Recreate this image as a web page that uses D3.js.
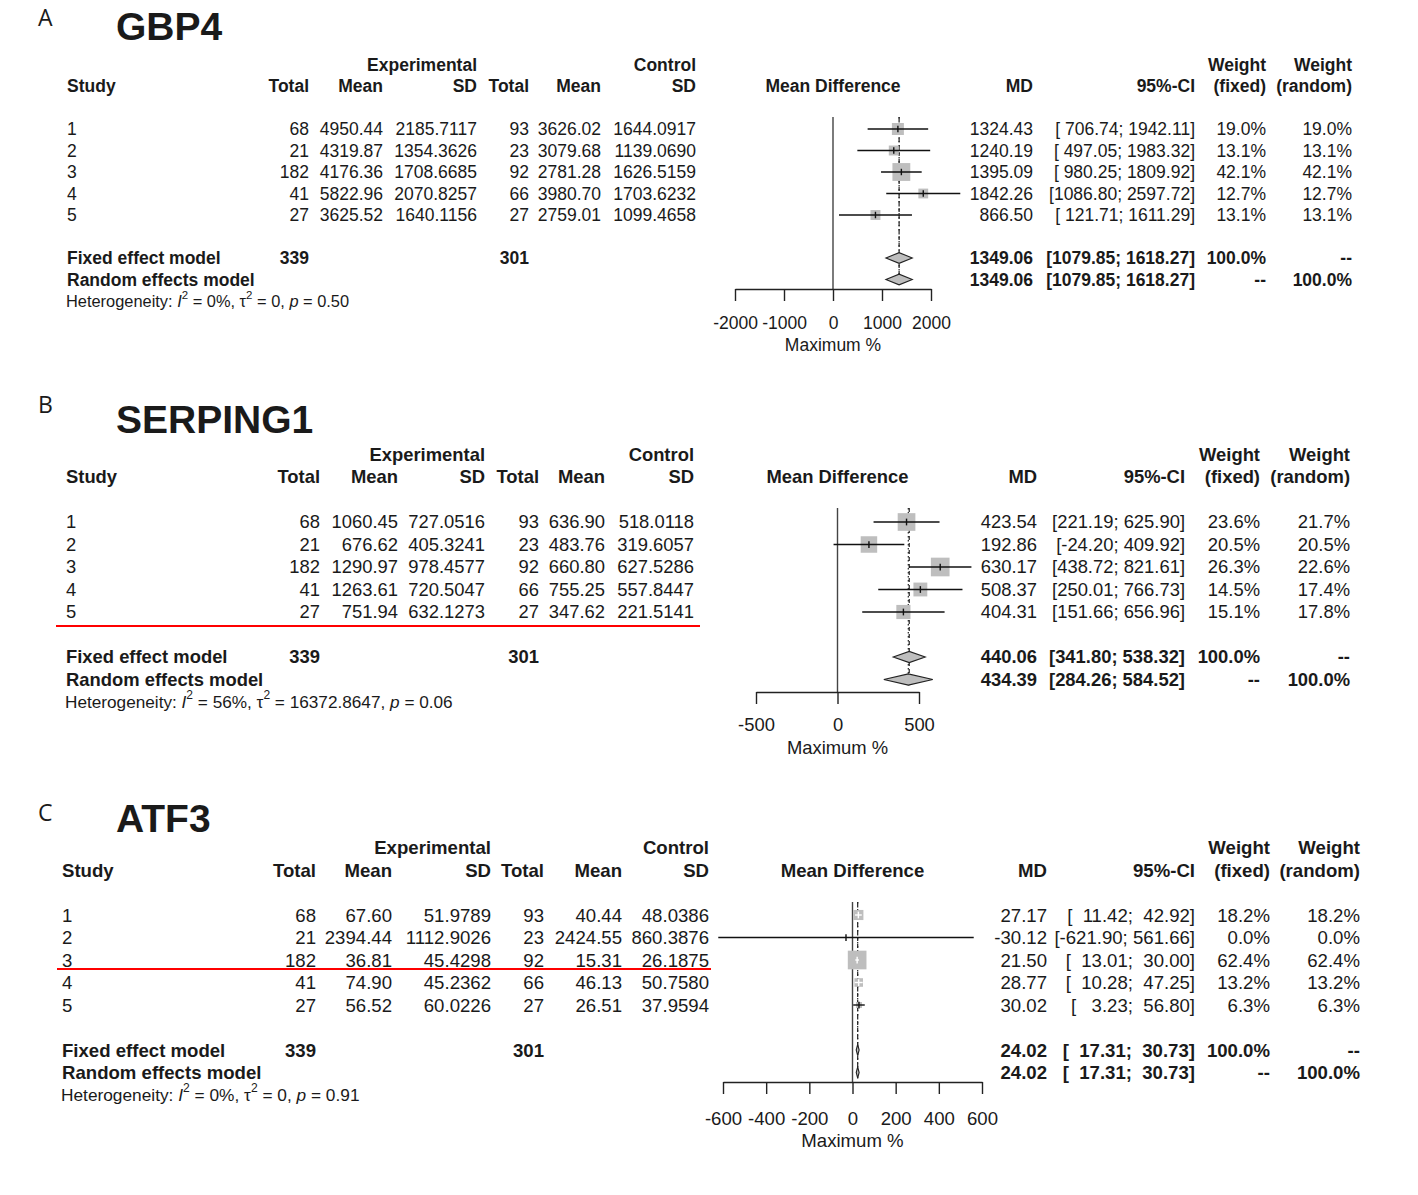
<!DOCTYPE html>
<html><head><meta charset="utf-8">
<script src="https://cdn.jsdelivr.net/npm/d3@7"></script>
<style>
html,body{margin:0;padding:0;background:#fff;}
svg text{font-family:"Liberation Sans",Arial,sans-serif;fill:#1a1a1a;white-space:pre;}
</style></head><body>
<svg id="chart" width="1418" height="1195"></svg>
<script>
// ---------- shared data ----------
const studies = ["1","2","3","4","5"];
const expTotal = [68,21,182,41,27];
const ctlTotal = [93,23,92,66,27];
const expTotalSum = 339;
const ctlTotalSum = 301;

// ---------- GBP4 ----------
const gbp4ExpMean = [4950.44,4319.87,4176.36,5822.96,3625.52];
const gbp4ExpSD   = [2185.7117,1354.3626,1708.6685,2070.8257,1640.1156];
const gbp4CtlMean = [3626.02,3079.68,2781.28,3980.70,2759.01];
const gbp4CtlSD   = [1644.0917,1139.0690,1626.5159,1703.6232,1099.4658];
const gbp4MD      = [1324.43,1240.19,1395.09,1842.26,866.50];
const gbp4Lower   = [706.74,497.05,980.25,1086.80,121.71];
const gbp4Upper   = [1942.11,1983.32,1809.92,2597.72,1611.29];
const gbp4WFixed  = [19.0,13.1,42.1,12.7,13.1];
const gbp4WRandom = [19.0,13.1,42.1,12.7,13.1];
const gbp4Fixed   = [1349.06,1079.85,1618.27];
const gbp4Random  = [1349.06,1079.85,1618.27];
const gbp4Ticks   = [-2000,-1000,0,1000,2000];
const gbp4Het     = ["0%","0","0.50"];

// ---------- SERPING1 ----------
const serpExpMean = [1060.45,676.62,1290.97,1263.61,751.94];
const serpExpSD   = [727.0516,405.3241,978.4577,720.5047,632.1273];
const serpCtlMean = [636.90,483.76,660.80,755.25,347.62];
const serpCtlSD   = [518.0118,319.6057,627.5286,557.8447,221.5141];
const serpMD      = [423.54,192.86,630.17,508.37,404.31];
const serpLower   = [221.19,-24.20,438.72,250.01,151.66];
const serpUpper   = [625.90,409.92,821.61,766.73,656.96];
const serpWFixed  = [23.6,20.5,26.3,14.5,15.1];
const serpWRandom = [21.7,20.5,22.6,17.4,17.8];
const serpFixed   = [440.06,341.80,538.32];
const serpRandom  = [434.39,284.26,584.52];
const serpTicks   = [-500,0,500];
const serpHet     = ["56%","16372.8647","0.06"];

// ---------- ATF3 ----------
const atf3ExpMean = [67.60,2394.44,36.81,74.90,56.52];
const atf3ExpSD   = [51.9789,1112.9026,45.4298,45.2362,60.0226];
const atf3CtlMean = [40.44,2424.55,15.31,46.13,26.51];
const atf3CtlSD   = [48.0386,860.3876,26.1875,50.7580,37.9594];
const atf3MD      = [27.17,-30.12,21.50,28.77,30.02];
const atf3Lower   = [11.42,-621.90,13.01,10.28,3.23];
const atf3Upper   = [42.92,561.66,30.00,47.25,56.80];
const atf3WFixed  = [18.2,0.0,62.4,13.2,6.3];
const atf3WRandom = [18.2,0.0,62.4,13.2,6.3];
const atf3Fixed   = [24.02,17.31,30.73];
const atf3Random  = [24.02,17.31,30.73];
const atf3Ticks   = [-600,-400,-200,0,200,400,600];
const atf3Het     = ["0%","0","0.91"];

const svg = d3.select("#chart");
svg.append("rect").attr("width",1418).attr("height",1195).attr("fill","#fff");

const f2 = d => d.toFixed(2);
const f4 = d => d.toFixed(4);
const padL = (s, w) => " ".repeat(Math.max(0, w - s.length)) + s;

function drawPanel(p) {
  const g = svg.append("g");
  const fs = p.fs;
  const y = d3.scaleLinear().domain([0,1]).range([p.y0, p.y0 + p.rowH]);
  const x = d3.scaleLinear().domain(p.domain).range(p.range);
  const c = p.cols;
  const T = (xx, row, str, anchor, bold, size) => {
    const s = size || fs;
    return g.append("text")
      .attr("x", xx).attr("y", y(row) + 0.35 * s)
      .attr("text-anchor", anchor)
      .attr("font-size", s)
      .attr("font-weight", bold ? "bold" : null)
      .attr("xml:space", "preserve")
      .text(str);
  };

  // letter + title
  g.append("text").attr("x", 38).attr("y", p.letterY)
    .style("font-family", "'Open Sans',sans-serif").attr("font-size", 23).text(p.letter);
  g.append("text").attr("x", 116).attr("y", p.titleY)
    .attr("font-size", 39).attr("font-weight", "bold").text(p.title);

  // headers
  T(c.eS, -3, "Experimental", "end", true);
  T(c.cS, -3, "Control", "end", true);
  T(c.wf, -3, "Weight", "end", true);
  T(c.wr, -3, "Weight", "end", true);
  T(c.study, -2, "Study", "start", true);
  T(c.eT, -2, "Total", "end", true);
  T(c.eM, -2, "Mean", "end", true);
  T(c.eS, -2, "SD", "end", true);
  T(c.cT, -2, "Total", "end", true);
  T(c.cM, -2, "Mean", "end", true);
  T(c.cS, -2, "SD", "end", true);
  T(x((p.domain[0] + p.domain[1]) / 2), -2, "Mean Difference", "middle", true);
  T(c.md, -2, "MD", "end", true);
  T(c.ci, -2, "95%-CI", "end", true);
  T(c.wf, -2, "(fixed)", "end", true);
  T(c.wr, -2, "(random)", "end", true);

  // CI string formatting (R-like padding)
  const loAll = p.lower.concat([p.fixed[1], p.random[1]]).map(f2);
  const hiAll = p.upper.concat([p.fixed[2], p.random[2]]).map(f2);
  const wLo = d3.max(loAll, s => s.length), wHi = d3.max(hiAll, s => s.length);
  const ciStr = (lo, hi) => "[" + padL(f2(lo), wLo) + "; " + padL(f2(hi), wHi) + "]";

  // study rows
  studies.forEach((s, i) => {
    T(c.study, i, s, "start");
    T(c.eT, i, String(expTotal[i]), "end");
    T(c.eM, i, f2(p.expMean[i]), "end");
    T(c.eS, i, f4(p.expSD[i]), "end");
    T(c.cT, i, String(ctlTotal[i]), "end");
    T(c.cM, i, f2(p.ctlMean[i]), "end");
    T(c.cS, i, f4(p.ctlSD[i]), "end");
    T(c.md, i, f2(p.md[i]), "end");
    T(c.ci, i, ciStr(p.lower[i], p.upper[i]), "end");
    T(c.wf, i, p.wFixed[i].toFixed(1) + "%", "end");
    T(c.wr, i, p.wRandom[i].toFixed(1) + "%", "end");
  });

  // summary rows
  T(c.study, 6, "Fixed effect model", "start", true);
  T(c.eT, 6, String(expTotalSum), "end", true);
  T(c.cT, 6, String(ctlTotalSum), "end", true);
  T(c.md, 6, f2(p.fixed[0]), "end", true);
  T(c.ci, 6, ciStr(p.fixed[1], p.fixed[2]), "end", true);
  T(c.wf, 6, "100.0%", "end", true);
  T(c.wr, 6, "--", "end", true);
  T(c.study, 7, "Random effects model", "start", true);
  T(c.md, 7, f2(p.random[0]), "end", true);
  T(c.ci, 7, ciStr(p.random[1], p.random[2]), "end", true);
  T(c.wf, 7, "--", "end", true);
  T(c.wr, 7, "100.0%", "end", true);

  // heterogeneity
  const hs = p.hetFs;
  const ht = g.append("text").attr("x", p.hetX).attr("y", y(8) + 0.35 * hs)
    .attr("font-size", hs).attr("xml:space", "preserve");
  const sup = () => ht.append("tspan").attr("font-size", hs * 0.7).attr("dy", -hs * 0.5).text("2");
  ht.append("tspan").text("Heterogeneity: ");
  ht.append("tspan").attr("font-style", "italic").text("I");
  sup();
  ht.append("tspan").attr("dy", hs * 0.5).text(" = " + p.het[0] + ", ");
  ht.append("tspan").text("\u03C4");
  sup();
  ht.append("tspan").attr("dy", hs * 0.5).text(" = " + p.het[1] + ", ");
  ht.append("tspan").attr("font-style", "italic").text("p");
  ht.append("tspan").text(" = " + p.het[2]);

  // red underline
  if (p.red) {
    g.append("line").attr("x1", p.red[0]).attr("x2", p.red[1])
      .attr("y1", p.red[2]).attr("y2", p.red[2])
      .attr("stroke", "#f00").attr("stroke-width", 2);
  }

  // ----- forest plot -----
  const dh = p.rowH * 0.25;
  // null line
  g.append("line").attr("x1", x(0)).attr("x2", x(0))
    .attr("y1", p.nullTop).attr("y2", p.axisY)
    .attr("stroke", "#444").attr("stroke-width", 1.4);
  // fixed (dashed) and random (dotted) lines
  g.append("line").attr("x1", x(p.fixed[0])).attr("x2", x(p.fixed[0]))
    .attr("y1", p.nullTop).attr("y2", y(7) + dh)
    .attr("stroke", "#222").attr("stroke-width", 1.2).attr("stroke-dasharray", "4,3");
  g.append("line").attr("x1", x(p.random[0])).attr("x2", x(p.random[0]))
    .attr("y1", p.nullTop).attr("y2", y(7) + dh)
    .attr("stroke", "#222").attr("stroke-width", 1.2).attr("stroke-dasharray", "1.5,2.5");

  // axis
  const axis = d3.axisBottom(x).tickValues(p.ticks).tickSize(12).tickSizeOuter(0)
    .tickFormat(d => String(d));
  const ag = g.append("g").attr("transform", `translate(0,${p.axisY})`).call(axis);
  ag.selectAll("path,line").attr("stroke", "#222").attr("stroke-width", 1.4);
  ag.selectAll("text").attr("font-size", fs).attr("dy", 0)
    .attr("y", p.tickLabelY - p.axisY + 0.35 * fs);
  g.append("text").attr("x", x((p.domain[0] + p.domain[1]) / 2))
    .attr("y", p.xlabY + 0.35 * fs).attr("text-anchor", "middle")
    .attr("font-size", fs).text("Maximum %");

  // boxes + CIs
  const wMax = d3.max(p.wFixed);
  const boxMax = p.rowH * 0.83;
  studies.forEach((s, i) => {
    const side = boxMax * Math.sqrt(p.wFixed[i] / wMax);
    const xl = x(p.lower[i]), xh = x(p.upper[i]), xm = x(p.md[i]), yy = y(i);
    const inside = side > 0 && (xh - xl) < side;
    if (side > 0) {
      g.append("rect").attr("x", xm - side / 2).attr("y", yy - side / 2)
        .attr("width", side).attr("height", side).attr("fill", "#bebebe");
    }
    const col = inside ? "#fff" : "#111";
    g.append("line").attr("x1", xl).attr("x2", xh).attr("y1", yy).attr("y2", yy)
      .attr("stroke", col).attr("stroke-width", 1.4);
    g.append("line").attr("x1", xm).attr("x2", xm)
      .attr("y1", yy - p.rowH * 0.15).attr("y2", yy + p.rowH * 0.15)
      .attr("stroke", col).attr("stroke-width", 1.4);
  });

  // diamonds
  [[p.fixed, 6], [p.random, 7]].forEach(([v, row]) => {
    const yy = y(row);
    const pts = [[x(v[1]), yy], [x(v[0]), yy - dh], [x(v[2]), yy], [x(v[0]), yy + dh]];
    g.append("polygon").attr("points", pts.map(q => q.join(",")).join(" "))
      .attr("fill", "#bebebe").attr("stroke", "#222").attr("stroke-width", 1.1);
  });
}

drawPanel({
  letter: "A", letterY: 26, title: "GBP4", titleY: 40,
  y0: 129, rowH: 21.5, fs: 17.5, hetFs: 16.4, hetX: 66,
  cols: {study: 67, eT: 309, eM: 383, eS: 477, cT: 529, cM: 601, cS: 696,
         md: 1033, ci: 1195, wf: 1266, wr: 1352},
  domain: [-2000, 2000], range: [735, 931], ticks: gbp4Ticks,
  axisY: 289, tickLabelY: 323, xlabY: 345, nullTop: 117,
  expMean: gbp4ExpMean, expSD: gbp4ExpSD, ctlMean: gbp4CtlMean, ctlSD: gbp4CtlSD,
  md: gbp4MD, lower: gbp4Lower, upper: gbp4Upper, wFixed: gbp4WFixed, wRandom: gbp4WRandom,
  fixed: gbp4Fixed, random: gbp4Random, het: gbp4Het, red: null
});

drawPanel({
  letter: "B", letterY: 413, title: "SERPING1", titleY: 433,
  y0: 522, rowH: 22.5, fs: 18.4, hetFs: 17.2, hetX: 65,
  cols: {study: 66, eT: 320, eM: 398, eS: 485, cT: 539, cM: 605, cS: 694,
         md: 1037, ci: 1185, wf: 1260, wr: 1350},
  domain: [-500, 500], range: [756, 919], ticks: serpTicks,
  axisY: 692, tickLabelY: 725, xlabY: 748, nullTop: 508,
  expMean: serpExpMean, expSD: serpExpSD, ctlMean: serpCtlMean, ctlSD: serpCtlSD,
  md: serpMD, lower: serpLower, upper: serpUpper, wFixed: serpWFixed, wRandom: serpWRandom,
  fixed: serpFixed, random: serpRandom, het: serpHet, red: [56, 700, 626]
});

drawPanel({
  letter: "C", letterY: 821, title: "ATF3", titleY: 832,
  y0: 915, rowH: 22.5, fs: 18.6, hetFs: 17.3, hetX: 61,
  cols: {study: 62, eT: 316, eM: 392, eS: 491, cT: 544, cM: 622, cS: 709,
         md: 1047, ci: 1195, wf: 1270, wr: 1360},
  domain: [-600, 600], range: [723, 982], ticks: atf3Ticks,
  axisY: 1082, tickLabelY: 1118, xlabY: 1140, nullTop: 902,
  expMean: atf3ExpMean, expSD: atf3ExpSD, ctlMean: atf3CtlMean, ctlSD: atf3CtlSD,
  md: atf3MD, lower: atf3Lower, upper: atf3Upper, wFixed: atf3WFixed, wRandom: atf3WRandom,
  fixed: atf3Fixed, random: atf3Random, het: atf3Het, red: [57, 711, 969]
});
</script></body></html>
